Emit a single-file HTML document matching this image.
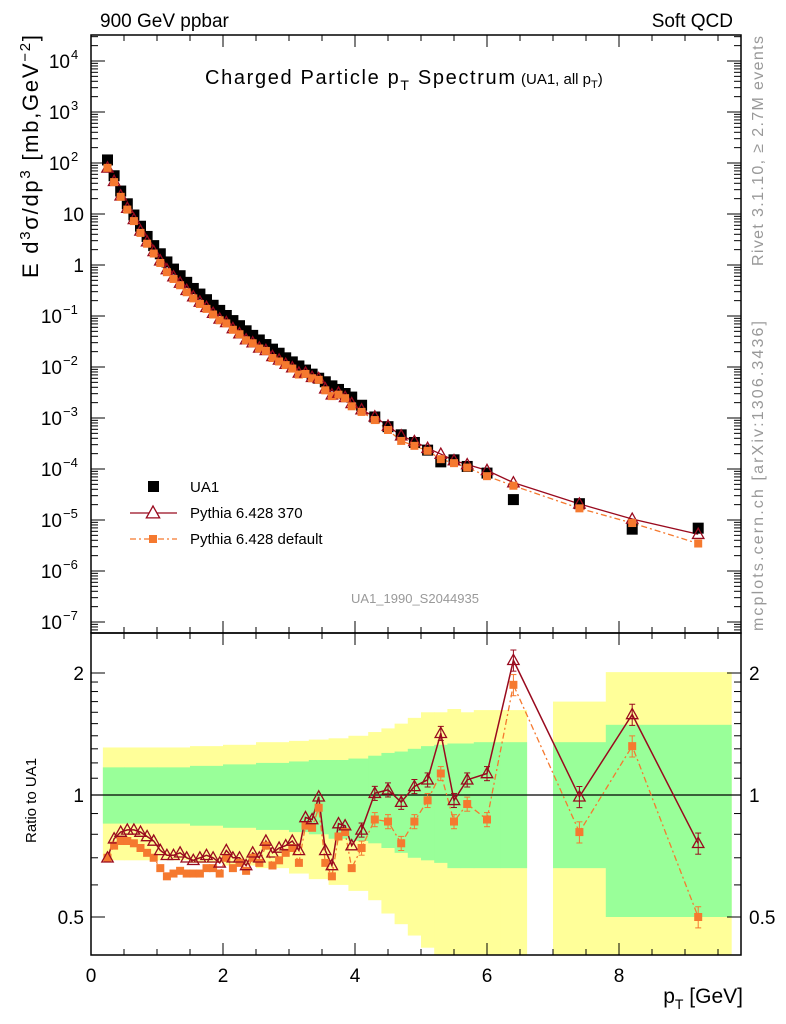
<!DOCTYPE html>
<html><head><meta charset="utf-8"><style>
body{margin:0;background:#fff;}
svg{display:block;font-family:"Liberation Sans",sans-serif;}
</style></head><body>
<svg id="c" width="786" height="1024" viewBox="0 0 786 1024"></svg>
<script>
const pT=[0.25,0.35,0.45,0.55,0.65,0.75,0.85,0.95,1.05,1.15,1.25,1.35,1.45,1.55,1.65,1.75,1.85,1.95,2.05,2.15,2.25,2.35,2.45,2.55,2.65,2.75,2.85,2.95,3.05,3.15,3.25,3.35,3.45,3.55,3.65,3.75,3.85,3.95,4.1,4.3,4.5,4.7,4.9,5.1,5.3,5.5,5.7,6.0,6.4,7.4,8.2,9.2];
const ua1Log=[2.06,1.75,1.45,1.2,0.98,0.76,0.56,0.38,0.22,0.06,-0.08,-0.21,-0.34,-0.46,-0.57,-0.68,-0.79,-0.89,-0.99,-1.09,-1.19,-1.29,-1.38,-1.47,-1.56,-1.65,-1.73,-1.82,-1.90,-1.98,-2.06,-2.14,-2.22,-2.29,-2.37,-2.44,-2.52,-2.59,-2.75,-2.98,-3.17,-3.33,-3.48,-3.63,-3.86,-3.82,-3.95,-4.08,-4.60,-4.68,-5.18,-5.16];
const ratio370=[.70,.78,.81,.82,.82,.81,.79,.77,.73,.71,.71,.72,.70,.69,.70,.71,.70,.68,.73,.70,.70,.67,.72,.70,.77,.72,.74,.75,.77,.73,.88,.87,.99,.73,.67,.85,.84,.75,.82,1.01,1.03,.96,1.05,1.09,1.42,.97,1.09,1.13,2.15,.99,1.58,.76];
const ratioDef=[.70,.75,.77,.77,.76,.74,.72,.70,.66,.63,.64,.65,.64,.64,.64,.66,.66,.64,.70,.66,.68,.65,.70,.68,.75,.67,.69,.72,.74,.68,.84,.83,.93,.68,.63,.79,.81,.66,.74,.87,.86,.76,.86,.97,1.13,.86,.95,.87,1.87,.81,1.32,.50];
const bandEdges=[0.18,0.5,1,1.5,2,2.5,3,3.3,3.6,3.9,4.2,4.4,4.6,4.8,5.0,5.2,5.4,5.6,5.8,6.2,6.6];
const yelUp=[1.31,1.31,1.31,1.32,1.33,1.35,1.36,1.37,1.38,1.40,1.43,1.46,1.50,1.55,1.60,1.60,1.63,1.60,1.62,1.62];
const yelLo=[.69,.69,.69,.68,.67,.66,.64,.62,.60,.58,.55,.51,.48,.45,.42,.40,.40,.40,.40,.40];
const grnUp=[1.17,1.17,1.17,1.18,1.19,1.20,1.21,1.22,1.22,1.23,1.25,1.27,1.28,1.30,1.32,1.33,1.34,1.34,1.35,1.35];
const grnLo=[.85,.85,.85,.84,.83,.82,.81,.80,.78,.77,.76,.74,.72,.70,.69,.68,.66,.66,.66,.66];
const bandEdges2=[7.0,7.8,9.7];
const yelUp2=[1.70,2.01],yelLo2=[.40,.40],grnUp2=[1.35,1.49],grnLo2=[.66,.50];
const xTicks=[0,2,4,6,8];

const S=document.getElementById('c');const NS='http://www.w3.org/2000/svg';
function el(t,a,p){const e=document.createElementNS(NS,t);for(const k in a)e.setAttribute(k,a[k]);(p||S).appendChild(e);return e;}
const L=91,R=741,T1=35,B1=633,T2=633,B2=955;
const X=v=>L+v*66;
const Y1=lg=>265-lg*51;
const Y2=r=>795-122*Math.log2(r);
function clipY2(y){return Math.max(T2,Math.min(B2,y));}
function bands(edges,up,lo,col,nm){for(let i=0;i<up.length;i++){const y1=clipY2(Y2(up[i])),y2=clipY2(Y2(lo[i]));
const r=el('rect',{x:X(edges[i]),y:y1,width:X(edges[i+1])-X(edges[i])+0.5,height:y2-y1,fill:col});

}}
bands(bandEdges,yelUp,yelLo,'#ffff99','yellow-band');
bands(bandEdges2,yelUp2,yelLo2,'#ffff99','yellow-band');
bands(bandEdges,grnUp,grnLo,'#99ff99','green-band');
bands(bandEdges2,grnUp2,grnLo2,'#99ff99','green-band');
el('line',{x1:L,x2:R,y1:Y2(1),y2:Y2(1),stroke:'#000','stroke-width':1.3,});
el('rect',{x:L,y:T1,width:R-L,height:B1-T1,fill:'none',stroke:'#000','stroke-width':1.5,});
el('rect',{x:L,y:T2,width:R-L,height:B2-T2,fill:'none',stroke:'#000','stroke-width':1.5,});
for(let v=0;v<=9.5;v+=0.5){const maj=(v%2===0);const len=maj?12:6;const x=X(v);
[[T1,1],[B1,-1],[T2,1],[B2,-1]].forEach(([y,d])=>el('line',{x1:x,x2:x,y1:y,y2:y+d*len,stroke:'#000'}));}
xTicks.forEach(v=>{const t=el('text',{x:X(v),y:982,'font-size':19,'text-anchor':'middle'});t.textContent=v;
});
for(let d=-8;d<=4;d++){for(let m=1;m<10;m++){const lg=d+Math.log10(m);const y=Y1(lg);if(y<T1||y>B1)continue;const len=m===1?14:7;
el('line',{x1:L,x2:L+len,y1:y,y2:y,stroke:'#000'});el('line',{x1:R,x2:R-len,y1:y,y2:y,stroke:'#000'});}}
const ylabs=[[4,'10','4'],[3,'10','3'],[2,'10','2'],[1,'10',''],[0,'1',''],[-1,'10','−1'],[-2,'10','−2'],[-3,'10','−3'],[-4,'10','−4'],[-5,'10','−5'],[-6,'10','−6'],[-7,'10','−7']];
ylabs.forEach(([d,b,e])=>{const y=Y1(d)+7;const t=el('text',{x:e?(e.length>1?62:70):84,y:y,'font-size':19,'text-anchor':'end'});t.textContent=b;

if(e){const s=el('text',{x:e.length>1?63:71,y:y-9,'font-size':13});s.textContent=e;}});
[0.4,0.5,0.6,0.7,0.8,0.9,1,1.1,1.2,1.3,1.4,1.5,1.6,1.7,1.8,1.9,2].forEach(r=>{const y=Y2(r);if(y<T2||y>B2)return;const len=(r===0.5||r===1||r===2)?14:7;
el('line',{x1:L,x2:L+len,y1:y,y2:y,stroke:'#000'});el('line',{x1:R,x2:R-len,y1:y,y2:y,stroke:'#000'});});
[[2,'2'],[1,'1'],[0.5,'0.5']].forEach(([r,s])=>{let t=el('text',{x:84,y:Y2(r)+7,'font-size':19,'text-anchor':'end'});t.textContent=s;
t=el('text',{x:749,y:Y2(r)+7,'font-size':19});t.textContent=s;});
const ua1=ua1Log.map(v=>Math.pow(10,v));
const p370=ua1.map((v,i)=>v*ratio370[i]);
const pdef=ua1.map((v,i)=>v*ratioDef[i]);
function tri(x,y,s,p){return el('polygon',{points:`${x},${y-s} ${x-s*0.95},${y+s*0.7} ${x+s*0.95},${y+s*0.7}`,fill:'none',stroke:'#990a1e','stroke-width':1.3},p);}
el('polyline',{points:pT.map((v,i)=>X(v)+','+Y1(Math.log10(p370[i]))).join(' '),fill:'none',stroke:'#990a1e','stroke-width':1.3,});
el('polyline',{points:pT.map((v,i)=>X(v)+','+Y1(Math.log10(pdef[i]))).join(' '),fill:'none',stroke:'#f5792f','stroke-width':1.3,'stroke-dasharray':'6,3,2,3',});
pT.forEach((v,i)=>{const x=X(v);
const a=el('rect',{x:x-5.5,y:Y1(ua1Log[i])-5.5,width:11,height:11,fill:'#000'});
});
pT.forEach((v,i)=>{const x=X(v);
const b=tri(x,Y1(Math.log10(p370[i])),6);

const c=el('rect',{x:x-4,y:Y1(Math.log10(pdef[i]))-4,width:8,height:8,fill:'#f5792f'});
});
el('polyline',{points:pT.map((v,i)=>X(v)+','+Y2(ratioDef[i])).join(' '),fill:'none',stroke:'#f5792f','stroke-width':1.3,'stroke-dasharray':'6,3,2,3',});
el('polyline',{points:pT.map((v,i)=>X(v)+','+Y2(ratio370[i])).join(' '),fill:'none',stroke:'#990a1e','stroke-width':1.5,});
pT.forEach((v,i)=>{const x=X(v);
if(v>4){[[ratio370[i],'#990a1e'],[ratioDef[i],'#f5792f']].forEach(([r,c])=>{const e=v>6?0.06*r:0.04*r;
el('line',{x1:x,x2:x,y1:Y2(r+e),y2:Y2(r-e),stroke:c});el('line',{x1:x-3,x2:x+3,y1:Y2(r+e),y2:Y2(r+e),stroke:c});el('line',{x1:x-3,x2:x+3,y1:Y2(r-e),y2:Y2(r-e),stroke:c});});}
const c=el('rect',{x:x-4,y:Y2(ratioDef[i])-4,width:8,height:8,fill:'#f5792f'});

const b=tri(x,Y2(ratio370[i]),6);
});
el('rect',{x:148,y:481,width:11,height:11,fill:'#000',});
el('line',{x1:130,x2:177,y1:513,y2:513,stroke:'#990a1e','stroke-width':1.3});
tri(153,513,7).setAttribute('fill','#fff');
el('line',{x1:130,x2:177,y1:539,y2:539,stroke:'#f5792f','stroke-width':1.3,'stroke-dasharray':'6,3,2,3'});
el('rect',{x:149,y:535,width:8,height:8,fill:'#f5792f'});
[['UA1',492,'legend-ua1'],['Pythia 6.428 370',518,'legend-pythia370'],['Pythia 6.428 default',544,'legend-pythia-default']].forEach(([s,y,n])=>{const t=el('text',{x:190,y:y,'font-size':15});t.textContent=s;});
</script>
<svg width="786" height="1024" style="position:absolute;left:0;top:0" font-family="Liberation Sans, sans-serif">
<text x="100" y="27" font-size="19">900 GeV ppbar</text>
<text x="733" y="27" font-size="19" text-anchor="end">Soft QCD</text>
<text x="205" y="84" font-size="20" textLength="310">Charged Particle p<tspan font-size="14" dy="6">T</tspan><tspan dy="-6"> Spectrum</tspan></text>
<text x="521" y="84" font-size="15">(UA1, all p<tspan font-size="11" dy="4">T</tspan><tspan dy="-4">)</tspan></text>
<text x="415" y="603" font-size="13" fill="#999" text-anchor="middle">UA1_1990_S2044935</text>
<text transform="translate(763,266) rotate(-90)" font-size="16" fill="#999" textLength="230">Rivet 3.1.10, ≥ 2.7M events</text>
<text transform="translate(763,631) rotate(-90)" font-size="16" fill="#999" textLength="310">mcplots.cern.ch [arXiv:1306.3436]</text>
<text transform="translate(38,278) rotate(-90)" font-size="22" textLength="243">E d<tspan font-size="15" dy="-8">3</tspan><tspan dy="8">σ/dp</tspan><tspan font-size="15" dy="-8">3</tspan><tspan dy="8"> [mb,GeV</tspan><tspan font-size="15" dy="-8">−2</tspan><tspan dy="8">]</tspan></text>
<text transform="translate(36,843) rotate(-90)" font-size="15">Ratio to UA1</text>
<text x="743" y="1003" font-size="21" text-anchor="end">p<tspan font-size="14" dy="6">T</tspan><tspan dy="-6"> [GeV]</tspan></text>
</svg>
</body></html>
